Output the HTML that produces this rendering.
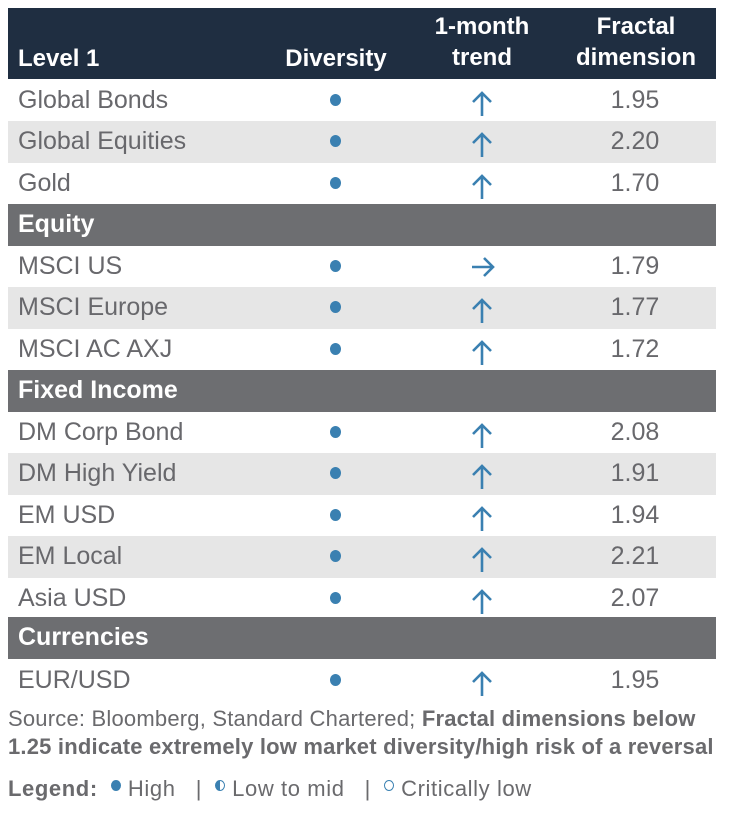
<!DOCTYPE html>
<html><head><meta charset="utf-8"><style>
body{margin:0;width:732px;height:818px;background:#fff;font-family:"Liberation Sans",Arial,sans-serif;position:relative;overflow:hidden}
.hd{position:absolute;left:8px;top:8px;width:708px;height:71px;background:#1f2e41}
.h{position:absolute;color:#fff;font-weight:bold;font-size:24px;line-height:31px;text-align:center}
.r{position:absolute;left:8px;width:708px;height:41.5px}
.g{background:#e6e6e6}
.s{background:#6d6e71}
.t{position:absolute;left:10px;top:0;line-height:41px;font-size:25px;color:#68686c}
.s .t{color:#fff;font-weight:bold}
.d{position:absolute;left:322px;top:14px;width:11px;height:12px;border-radius:50%;background:#3a80b1}
.a{position:absolute;left:462px;top:10px}
.v{position:absolute;left:580px;width:94px;text-align:center;line-height:41px;font-size:25px;color:#68686c}
.f{position:absolute;left:8px;font-size:22px;letter-spacing:0.2px;color:#6a6a6d;white-space:nowrap}
</style></head><body>
<div class="hd"></div>
<div class="h" style="left:18px;top:43px;text-align:left">Level 1</div>
<div class="h" style="left:270px;top:43px;width:132px">Diversity</div>
<div class="h" style="left:422px;top:11px;width:120px">1-month<br>trend</div>
<div class="h" style="left:566px;top:11px;width:140px">Fractal<br>dimension</div>

<div class="r" style="top:79.5px"><div class="t">Global Bonds</div><div class="d"></div><svg class="a" width="24" height="27"><path d="M12 3V26M3 12L12 3L21 12" stroke="#3a80b1" stroke-width="2.6" fill="none"/></svg><div class="v">1.95</div></div>
<div class="r g" style="top:121px"><div class="t">Global Equities</div><div class="d"></div><svg class="a" width="24" height="27"><path d="M12 3V26M3 12L12 3L21 12" stroke="#3a80b1" stroke-width="2.6" fill="none"/></svg><div class="v">2.20</div></div>
<div class="r" style="top:162.5px"><div class="t">Gold</div><div class="d"></div><svg class="a" width="24" height="27"><path d="M12 3V26M3 12L12 3L21 12" stroke="#3a80b1" stroke-width="2.6" fill="none"/></svg><div class="v">1.70</div></div>
<div class="r s" style="top:204px"><div class="t">Equity</div></div>
<div class="r" style="top:245.5px"><div class="t">MSCI US</div><div class="d"></div><svg class="a" width="26" height="24" style="top:9px"><path d="M2 12H23M14 3L23 12L14 21" stroke="#3a80b1" stroke-width="2.6" fill="none"/></svg><div class="v">1.79</div></div>
<div class="r g" style="top:287px"><div class="t">MSCI Europe</div><div class="d"></div><svg class="a" width="24" height="27"><path d="M12 3V26M3 12L12 3L21 12" stroke="#3a80b1" stroke-width="2.6" fill="none"/></svg><div class="v">1.77</div></div>
<div class="r" style="top:328.5px"><div class="t">MSCI AC AXJ</div><div class="d"></div><svg class="a" width="24" height="27"><path d="M12 3V26M3 12L12 3L21 12" stroke="#3a80b1" stroke-width="2.6" fill="none"/></svg><div class="v">1.72</div></div>
<div class="r s" style="top:370px"><div class="t">Fixed Income</div></div>
<div class="r" style="top:411.5px"><div class="t">DM Corp Bond</div><div class="d"></div><svg class="a" width="24" height="27"><path d="M12 3V26M3 12L12 3L21 12" stroke="#3a80b1" stroke-width="2.6" fill="none"/></svg><div class="v">2.08</div></div>
<div class="r g" style="top:453px"><div class="t">DM High Yield</div><div class="d"></div><svg class="a" width="24" height="27"><path d="M12 3V26M3 12L12 3L21 12" stroke="#3a80b1" stroke-width="2.6" fill="none"/></svg><div class="v">1.91</div></div>
<div class="r" style="top:494.5px"><div class="t">EM USD</div><div class="d"></div><svg class="a" width="24" height="27"><path d="M12 3V26M3 12L12 3L21 12" stroke="#3a80b1" stroke-width="2.6" fill="none"/></svg><div class="v">1.94</div></div>
<div class="r g" style="top:536px"><div class="t">EM Local</div><div class="d"></div><svg class="a" width="24" height="27"><path d="M12 3V26M3 12L12 3L21 12" stroke="#3a80b1" stroke-width="2.6" fill="none"/></svg><div class="v">2.21</div></div>
<div class="r" style="top:577.5px"><div class="t">Asia USD</div><div class="d"></div><svg class="a" width="24" height="27"><path d="M12 3V26M3 12L12 3L21 12" stroke="#3a80b1" stroke-width="2.6" fill="none"/></svg><div class="v">2.07</div></div>
<div class="r s" style="top:617px"><div class="t">Currencies</div></div>
<div class="r" style="top:659.5px"><div class="t">EUR/USD</div><div class="d"></div><svg class="a" width="24" height="27"><path d="M12 3V26M3 12L12 3L21 12" stroke="#3a80b1" stroke-width="2.6" fill="none"/></svg><div class="v">1.95</div></div>

<div class="f" style="top:706px">Source: Bloomberg, Standard Chartered; <b>Fractal dimensions below</b></div>
<div class="f" style="top:734px;font-weight:bold">1.25 indicate extremely low market diversity/high risk of a reversal</div>
<div class="f" style="top:776px;letter-spacing:0.6px"><b>Legend:</b>&nbsp;&nbsp;<span style="display:inline-block;width:10px;height:11px;border-radius:50%;background:#3a80b1;vertical-align:5px"></span> High &nbsp;&nbsp;|&nbsp;&nbsp;<span style="display:inline-block;width:8px;height:9px;border-radius:50%;border:1.5px solid #3a80b1;background:linear-gradient(90deg,#3a80b1 50%,#fff 50%);vertical-align:5px"></span> Low to mid &nbsp;&nbsp;|&nbsp;&nbsp;<span style="display:inline-block;width:8px;height:9px;border-radius:50%;border:1.5px solid #3a80b1;vertical-align:5px"></span> Critically low</div>
</body></html>
